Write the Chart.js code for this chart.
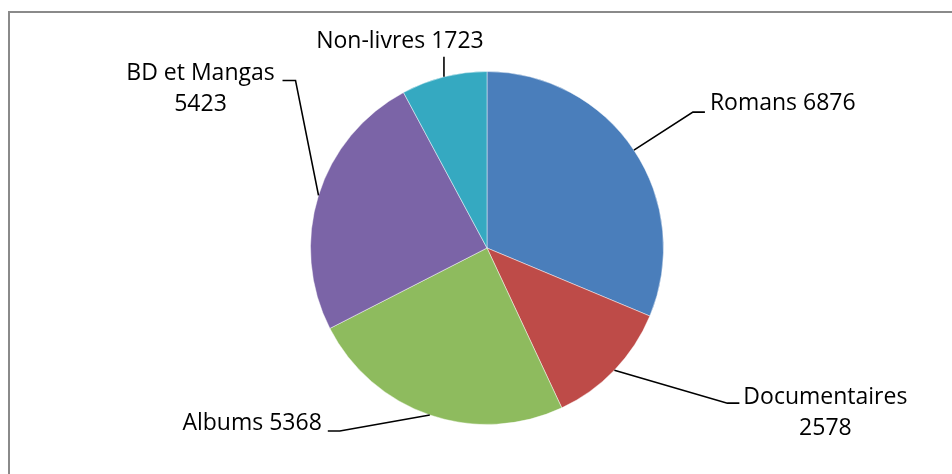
<!DOCTYPE html>
<html>
<head>
<meta charset="utf-8">
<script src="https://cdn.jsdelivr.net/npm/chart.js@4.4.1/dist/chart.umd.min.js"></script>
<style>
  html, body { margin: 0; padding: 0; background: #fff; }
  #wrap { position: relative; width: 952px; height: 474px; }
  #frame { position: absolute; left: 8px; top: 11px; width: 960px; height: 480px; border: 2px solid #8a8a8a; box-sizing: border-box; }
  canvas { position: absolute; left: 0; top: 0; }
</style>
</head>
<body>
<div id="wrap">
  <div id="frame"></div>
  <canvas id="pie" width="952" height="474"></canvas>
</div>
<script>
const categories = ['Romans', 'Documentaires', 'Albums', 'BD et Mangas', 'Non-livres'];
const values = [6876, 2578, 5368, 5423, 1723];
const colors = ['#4A7EBB', '#BE4B48', '#8EBB5E', '#7B64A7', '#35A9C1'];

// label layout: elbow offset from the slice edge, tail length, text offset from tail end
const labelLayout = [
  { elbow: [59, -38], tail: 12, text: [5, -9], align: 'left', lines: 1 },
  { elbow: [113, 33], tail: 12, text: [86, -6], align: 'center', lines: 2 },
  { elbow: [-90, 16], tail: -12, text: [-6, -8], align: 'right', lines: 1 },
  { elbow: [-23, -115], tail: -13, text: [-82, -7], align: 'center', lines: 2 },
  { elbow: [0, -20], tail: 0, text: [-44, -15], align: 'center', lines: 1 }
];

const labelFont = '23px "Open Sans"';

const leaderLabels = {
  id: 'leaderLabels',
  afterDraw(chart) {
    const ctx = chart.ctx;
    const meta = chart.getDatasetMeta(0);
    ctx.save();
    ctx.font = labelFont;
    ctx.fillStyle = '#000';
    ctx.strokeStyle = '#000';
    ctx.lineWidth = 1.6;
    meta.data.forEach((arc, i) => {
      const p = arc.getProps(['x', 'y', 'startAngle', 'endAngle', 'outerRadius'], true);
      const mid = (p.startAngle + p.endAngle) / 2;
      const sx = p.x + Math.cos(mid) * p.outerRadius;
      const sy = p.y + Math.sin(mid) * p.outerRadius;
      const L = labelLayout[i];
      const ex = sx + L.elbow[0];
      const ey = sy + L.elbow[1];
      const tx = ex + L.tail;
      ctx.beginPath();
      ctx.moveTo(sx, sy);
      ctx.lineTo(ex, ey);
      ctx.lineTo(tx, ey);
      ctx.stroke();

      const txt = categories[i] + (L.lines === 2 ? '\n' : ' ') + values[i];
      const parts = txt.split('\n');
      ctx.textAlign = L.align;
      ctx.textBaseline = 'middle';
      const ax = tx + L.text[0];
      const ay = ey + L.text[1];
      parts.forEach((line, k) => {
        ctx.fillText(line, ax, ay + k * 31);
      });
    });
    ctx.restore();
  }
};

new Chart(document.getElementById('pie'), {
  type: 'pie',
  data: {
    labels: categories,
    datasets: [{
      data: values,
      backgroundColor: colors,
      borderColor: 'rgba(255,255,255,0.45)',
      borderWidth: 1
    }]
  },
  options: {
    responsive: false,
    animation: false,
    layout: { padding: { top: 71, bottom: 49, left: 150, right: 128 } },
    plugins: {
      legend: { display: false },
      tooltip: { enabled: false }
    }
  },
  plugins: [leaderLabels]
});
</script>
</body>
</html>
